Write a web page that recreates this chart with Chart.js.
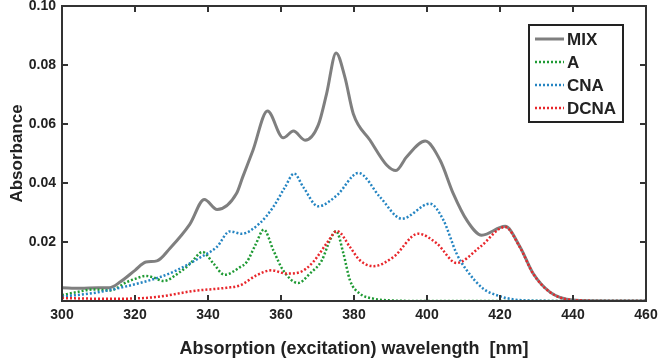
<!DOCTYPE html>
<html>
<head>
<meta charset="utf-8">
<script src="https://cdn.jsdelivr.net/npm/chart.js@4.4.0/dist/chart.umd.min.js"></script>
<style>
  html, body { margin: 0; padding: 0; background: #fff; }
  #wrap { width: 658px; height: 361px; }
</style>
</head>
<body>
<div id="wrap"><canvas id="spec"></canvas></div>
<script>
// wavelength (nm) / absorbance pairs
const mixNm  = [300, 305, 310, 313, 316, 320, 323, 326, 329.6, 335, 339, 342.5, 347.8, 349.5, 352.3, 356.3, 360.6, 363.4, 366.6, 370.2, 372.5, 375.1, 377.5, 379.8, 384.4, 389, 391.5, 394.4, 399.5, 403.6, 407.2, 410.9, 415, 421.4, 425.5, 429.1, 433.7, 440, 450, 460];
const mixAbs = [0.0045, 0.0043, 0.0045, 0.0045, 0.0065, 0.0104, 0.0132, 0.0136, 0.0179, 0.026, 0.0344, 0.031, 0.0364, 0.042, 0.051, 0.0644, 0.0553, 0.0576, 0.0545, 0.0596, 0.0703, 0.0841, 0.0759, 0.0635, 0.0545, 0.046, 0.0442, 0.0488, 0.0542, 0.0477, 0.0364, 0.0274, 0.0223, 0.0253, 0.0183, 0.0093, 0.003, 0.0003, 0, 0];

const aNm  = [300, 304, 308.6, 313.2, 317.7, 320, 323, 325, 327.8, 332.3, 335, 338.5, 341.5, 344.5, 348.8, 350.6, 353, 355.3, 357.9, 360.6, 364.7, 367.9, 371.2, 373.4, 375.1, 377.1, 378.9, 381.6, 385.3, 390, 400, 460];
const aAbs = [0.002, 0.003, 0.0039, 0.0036, 0.0064, 0.0075, 0.0085, 0.008, 0.0068, 0.0098, 0.0125, 0.0166, 0.0127, 0.0089, 0.0115, 0.0132, 0.019, 0.0242, 0.0172, 0.0104, 0.0061, 0.0093, 0.0138, 0.0206, 0.0237, 0.0161, 0.007, 0.0025, 0.0008, 0.0002, 0, 0];

const cnaNm  = [300, 308.6, 317.7, 326.8, 331.4, 337.8, 342.4, 346, 349.2, 354.2, 357.9, 361.1, 363.6, 366.1, 370.2, 375.3, 381.2, 387.1, 393.1, 400.8, 404.5, 408.1, 410.9, 415.4, 420, 424, 430, 440, 460];
const cnaAbs = [0.0015, 0.0027, 0.005, 0.0081, 0.0104, 0.0147, 0.0183, 0.0236, 0.0228, 0.0264, 0.0319, 0.0386, 0.0432, 0.0386, 0.0321, 0.0358, 0.0434, 0.0353, 0.0279, 0.033, 0.0274, 0.0161, 0.0104, 0.0042, 0.0016, 0.0005, 0.0001, 0, 0];

const dcnaNm  = [300, 308.6, 317.7, 326.8, 336, 345.1, 348.8, 353.3, 357.4, 361.5, 365.2, 368.8, 372.5, 375.4, 378.9, 381.6, 385.3, 390.8, 397.6, 402.7, 408.1, 414.5, 421.4, 425.5, 429.1, 433.7, 440, 450, 460];
const dcnaAbs = [0.001, 0.0008, 0.0008, 0.0015, 0.0034, 0.0045, 0.0053, 0.0087, 0.0104, 0.0093, 0.0098, 0.0132, 0.0195, 0.0237, 0.0183, 0.0138, 0.0118, 0.0149, 0.0228, 0.0195, 0.0129, 0.0183, 0.0251, 0.0181, 0.0092, 0.003, 0.0003, 0, 0];

const xTicks = [300, 320, 340, 360, 380, 400, 420, 440, 460];
const yTicks = [0.02, 0.04, 0.06, 0.08, 0.10];

const pairs = (xs, ys) => xs.map((x, i) => ({ x: x, y: ys[i] }));
const ink = "#222";
const fontFam = "'Liberation Sans', Arial, sans-serif";

function series(label, xs, ys, color, dotted, order) {
  return {
    label: label,
    data: pairs(xs, ys),
    borderColor: color,
    backgroundColor: color,
    borderWidth: dotted ? 2.5 : 3,
    borderDash: dotted ? [2, 2] : [],
    pointRadius: 0,
    cubicInterpolationMode: "monotone",
    fill: false,
    order: order,
  };
}

// box around the plot, inward ticks on all sides, legend in the top right
const frame = {
  id: "frame",
  afterDatasetsDraw(chart) {
    const c = chart.ctx, a = chart.chartArea;
    const xs = chart.scales.x, ys = chart.scales.y;
    c.save();
    c.strokeStyle = "#333";
    c.lineWidth = 2;
    c.strokeRect(a.left, a.top, a.right - a.left, a.bottom - a.top);
    c.beginPath();
    xTicks.forEach(v => {
      const px = xs.getPixelForValue(v);
      c.moveTo(px, a.bottom); c.lineTo(px, a.bottom - 6);
      c.moveTo(px, a.top); c.lineTo(px, a.top + 6);
    });
    yTicks.forEach(v => {
      const py = ys.getPixelForValue(v);
      c.moveTo(a.left, py); c.lineTo(a.left + 6, py);
      c.moveTo(a.right, py); c.lineTo(a.right - 6, py);
    });
    c.stroke();

    // legend
    const lx = 529, ly = 25, lw = 94, lh = 97;
    c.fillStyle = "#fff";
    c.fillRect(lx, ly, lw, lh);
    c.strokeStyle = ink;
    c.lineWidth = 2;
    c.strokeRect(lx, ly, lw, lh);
    const rows = [39, 62, 85, 108];
    chart.data.datasets.forEach((ds, i) => {
      c.beginPath();
      c.strokeStyle = ds.borderColor;
      c.lineWidth = ds.borderWidth;
      c.setLineDash(ds.borderDash);
      c.moveTo(535, rows[i]); c.lineTo(564, rows[i]);
      c.stroke();
      c.setLineDash([]);
      c.fillStyle = ink;
      c.font = "bold 17px " + fontFam;
      c.textBaseline = "middle";
      c.textAlign = "left";
      c.fillText(ds.label, 567, rows[i] + 1);
    });
    c.restore();
  }
};

new Chart(document.getElementById("spec"), {
  type: "line",
  data: {
    datasets: [
      series("MIX", mixNm, mixAbs, "#7f7f7f", false, 4),
      series("A", aNm, aAbs, "#1f9a34", true, 3),
      series("CNA", cnaNm, cnaAbs, "#2585c2", true, 2),
      series("DCNA", dcnaNm, dcnaAbs, "#e8262b", true, 1),
    ],
  },
  options: {
    responsive: true,
    maintainAspectRatio: false,
    animation: false,
    layout: { padding: { top: 6, right: 0, left: 0, bottom: 0 } },
    plugins: { legend: { display: false }, tooltip: { enabled: false } },
    scales: {
      x: {
        type: "linear",
        min: 300,
        max: 460,
        afterBuildTicks: s => { s.ticks = xTicks.map(v => ({ value: v })); },
        grid: { display: false, drawTicks: false },
        border: { display: false },
        ticks: { color: ink, padding: 6, font: { family: fontFam, size: 14, weight: "bold" } },
        title: {
          display: true,
          text: "Absorption (excitation) wavelength  [nm]",
          color: ink,
          padding: { top: 14, bottom: 1 },
          font: { family: fontFam, size: 18, weight: "bold" },
        },
        afterFit: s => { s.height = 60; s.paddingRight = 12; s.paddingLeft = 0; },
      },
      y: {
        min: 0,
        max: 0.1,
        afterBuildTicks: s => { s.ticks = [0].concat(yTicks).map(v => ({ value: v })); },
        grid: { display: false, drawTicks: false },
        border: { display: false },
        ticks: {
          color: ink,
          padding: 6,
          font: { family: fontFam, size: 14, weight: "bold" },
          callback: v => (v === 0 ? "" : v.toFixed(2)),
        },
        title: {
          display: true,
          text: "Absorbance",
          color: ink,
          padding: { top: 7, bottom: 0 },
          font: { family: fontFam, size: 17, weight: "bold" },
        },
        afterFit: s => { s.width = 62; s.paddingTop = 0; s.paddingBottom = 0; },
      },
    },
  },
  plugins: [frame],
});
</script>
</body>
</html>
